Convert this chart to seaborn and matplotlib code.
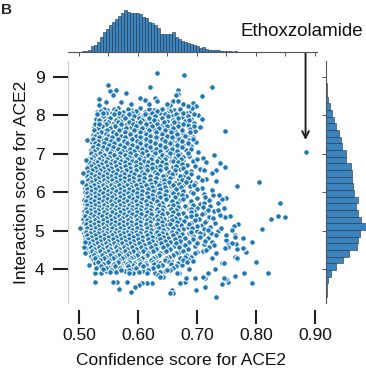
import numpy as np
import pandas as pd
import matplotlib
matplotlib.use("Agg")
import matplotlib.pyplot as plt
import seaborn as sns

# --------------------------
# Data
# --------------------------
# top marginal: confidence score histogram (bar heights)
conf_bin_start = 0.5045
conf_bin_width = 0.00508
conf_counts = [2, 4, 7, 17, 20, 29, 44, 57, 67, 79, 87, 95, 105, 112, 120, 115,
               112, 113, 111, 109, 102, 97, 85, 84, 79, 69, 52, 52, 53, 53, 57,
               42, 37, 32, 29, 27, 22, 19, 17, 12, 15, 9, 7, 5, 7, 6, 3, 3, 2,
               2, 1, 2]

# right marginal: interaction score histogram (bar lengths, low -> high)
inter_bin_start = 3.28
inter_bin_width = 0.1737
inter_counts = [2, 4, 7, 15, 29, 50, 70, 95, 97, 102, 120, 107, 97, 92, 97,
                84, 83, 80, 78, 77, 62, 60, 49, 45, 40, 29, 24, 17, 12, 7,
                2, 2, 1, 1]

# dense part of the cloud: rows of points per interaction score level,
# confidence scores in thousandths
core_levels = [8.20, 8.15, 8.10, 8.05, 8.00, 7.95, 7.90, 7.85, 7.80, 7.75,
               7.70, 7.65, 7.60, 7.55, 7.50, 7.45, 7.40, 7.35, 7.30, 7.25,
               7.20, 7.15, 7.10, 7.05, 7.00, 6.95, 6.90, 6.85, 6.80, 6.75,
               6.70, 6.65, 6.60, 6.55, 6.50, 6.45, 6.40, 6.35, 6.30, 6.25,
               6.20, 6.15, 6.10, 6.05, 6.00, 5.95, 5.90, 5.85, 5.80, 5.75,
               5.70, 5.65, 5.60, 5.55, 5.50, 5.45, 5.40, 5.35, 5.30, 5.25,
               5.20, 5.15, 5.10, 5.05, 5.00, 4.95, 4.90, 4.85, 4.80, 4.75,
               4.70, 4.65, 4.60, 4.55, 4.50, 4.45, 4.40, 4.35, 4.30, 4.25,
               4.20, 4.15, 4.10, 4.05, 4.00, 3.95, 3.90]
core_conf = [
    [538, 566, 604, 652, 690],
    [547, 589, 627, 661],
    [531, 574, 612, 645, 668],
    [556, 598, 637, 683],
    [536, 581, 619, 657, 701],
    [549, 567, 606, 643, 674],
    [529, 588, 625, 662, 690],
    [544, 572, 611, 633, 650, 679],
    [533, 559, 597, 621, 667, 695],
    [551, 579, 604, 640, 657, 684],
    [526, 566, 588, 615, 646, 672, 706],
    [541, 573, 599, 627, 653, 689],
    [530, 556, 582, 609, 636, 662, 697],
    [545, 566, 592, 618, 645, 676],
    [524, 551, 575, 601, 628, 655, 683],
    [538, 561, 585, 611, 637, 664, 693],
    [527, 548, 570, 596, 622, 648, 672],
    [541, 559, 580, 604, 630, 657, 686],
    [522, 549, 567, 589, 614, 640, 666, 699],
    [535, 556, 576, 598, 623, 649, 677],
    [526, 545, 564, 584, 607, 632, 658, 690],
    [538, 553, 572, 593, 615, 641, 669],
    [520, 544, 561, 580, 601, 624, 650, 681],
    [532, 550, 568, 588, 609, 633, 661, 702],
    [523, 541, 557, 575, 596, 617, 642, 671],
    [535, 549, 565, 583, 604, 626, 652, 686],
    [518, 539, 555, 571, 590, 611, 635, 663, 711],
    [529, 546, 562, 579, 598, 620, 646, 676],
    [521, 537, 552, 568, 586, 606, 629, 656, 694],
    [531, 544, 559, 575, 593, 614, 638, 667],
    [516, 536, 550, 565, 582, 601, 622, 648, 683],
    [527, 542, 556, 571, 589, 609, 631, 659],
    [519, 534, 548, 562, 578, 596, 617, 641, 671, 705],
    [529, 543, 557, 571, 587, 605, 626, 652, 690],
    [514, 537, 550, 564, 579, 595, 614, 636, 663],
    [524, 542, 556, 570, 586, 603, 623, 647, 678],
    [517, 533, 547, 561, 575, 591, 610, 631, 657, 701],
    [526, 540, 553, 567, 582, 599, 618, 641, 669, 716],
    [512, 531, 545, 558, 572, 587, 605, 626, 651, 688],
    [522, 537, 550, 561, 573, 586, 600, 617, 637, 662, 697],
    [513, 529, 543, 555, 567, 580, 594, 609, 627, 648, 676],
    [520, 535, 548, 560, 572, 585, 599, 615, 633, 656, 688],
    [511, 527, 541, 553, 565, 577, 590, 604, 621, 641, 666, 708],
    [518, 533, 546, 558, 570, 582, 595, 610, 628, 649, 677],
    [510, 525, 539, 551, 563, 575, 587, 601, 616, 635, 658, 690],
    [517, 531, 544, 556, 568, 580, 593, 607, 623, 643, 668, 712],
    [512, 524, 537, 549, 561, 573, 585, 598, 613, 630, 651, 681],
    [519, 530, 543, 555, 567, 579, 591, 605, 620, 639, 662, 700],
    [509, 523, 535, 548, 560, 572, 584, 597, 611, 627, 646, 672, 720],
    [516, 529, 541, 553, 565, 577, 589, 603, 618, 635, 656, 688],
    [511, 522, 534, 546, 558, 570, 582, 595, 609, 624, 642, 666, 705],
    [518, 528, 540, 552, 564, 576, 588, 601, 616, 632, 652, 680, 722],
    [510, 523, 535, 547, 559, 571, 583, 596, 610, 625, 644, 670, 700],
    [515, 529, 541, 553, 565, 577, 589, 602, 617, 633, 655, 686],
    [508, 521, 534, 546, 558, 570, 582, 595, 609, 624, 641, 664, 695, 728],
    [514, 527, 540, 552, 564, 576, 588, 601, 615, 631, 650, 676, 712],
    [509, 522, 535, 547, 559, 571, 583, 596, 610, 625, 643, 667, 698],
    [516, 529, 541, 553, 565, 577, 589, 602, 617, 634, 654, 682, 720],
    [507, 521, 534, 546, 558, 570, 582, 595, 609, 625, 644, 669, 704],
    [513, 527, 540, 552, 564, 576, 588, 601, 615, 632, 652, 678, 715],
    [509, 520, 533, 545, 557, 569, 581, 593, 606, 621, 638, 660, 690, 730],
    [515, 526, 538, 550, 562, 574, 586, 598, 612, 628, 647, 673, 708],
    [510, 521, 532, 544, 556, 568, 580, 592, 605, 619, 636, 657, 684, 722],
    [505, 517, 528, 539, 551, 563, 575, 587, 600, 614, 630, 650, 677, 712],
    [512, 523, 535, 547, 559, 571, 583, 596, 610, 626, 645, 669, 700, 736],
    [508, 519, 530, 542, 554, 566, 578, 590, 603, 618, 635, 657, 686, 724],
    [514, 525, 537, 549, 561, 573, 585, 598, 612, 628, 648, 674, 710],
    [510, 521, 532, 544, 556, 568, 580, 593, 606, 621, 639, 662, 694],
    [516, 527, 539, 551, 563, 575, 587, 600, 614, 630, 651, 679, 718],
    [511, 523, 534, 546, 558, 570, 582, 595, 608, 623, 642, 667, 701],
    [517, 529, 541, 553, 565, 577, 589, 602, 616, 633, 655, 686, 726],
    [513, 525, 537, 549, 561, 573, 585, 598, 611, 627, 647, 674, 712],
    [519, 531, 543, 555, 567, 579, 591, 604, 619, 637, 661, 697],
    [515, 528, 540, 552, 564, 576, 588, 601, 615, 632, 654, 684],
    [521, 534, 546, 558, 570, 582, 594, 608, 624, 644, 671, 713],
    [518, 531, 543, 555, 567, 579, 592, 606, 622, 643, 670, 700],
    [523, 536, 549, 561, 573, 586, 600, 616, 636, 663, 695],
    [520, 533, 546, 558, 571, 584, 598, 614, 633, 658, 688],
    [526, 540, 553, 566, 580, 595, 612, 632, 657, 690],
    [523, 537, 551, 565, 579, 594, 611, 631, 655, 684],
    [530, 545, 560, 575, 591, 609, 630, 656, 693],
    [527, 543, 559, 576, 594, 614, 638, 668],
    [534, 552, 571, 591, 613, 640, 675],
    [531, 550, 572, 596, 623, 655],
    [540, 563, 588, 616, 649, 686],
    [546, 578, 609, 645],
    [537, 592, 628, 670],
]

# second set of rows, in between the first ones
core_levels_b = [8.175, 8.125, 8.075, 8.025, 7.975, 7.925, 7.875, 7.825,
                 7.775, 7.725, 7.675, 7.625, 7.575, 7.525, 7.475, 7.425,
                 7.375, 7.325, 7.275, 7.225, 7.175, 7.125, 7.075, 7.025,
                 6.975, 6.925, 6.875, 6.825, 6.775, 6.725, 6.675, 6.625,
                 6.575, 6.525, 6.475, 6.425, 6.375, 6.325, 6.275, 6.225,
                 6.175, 6.125, 6.075, 6.025, 5.975, 5.925, 5.875, 5.825,
                 5.775, 5.725, 5.675, 5.625, 5.575, 5.525, 5.475, 5.425,
                 5.375, 5.325, 5.275, 5.225, 5.175, 5.125, 5.075, 5.025,
                 4.975, 4.925, 4.875, 4.825, 4.775, 4.725, 4.675, 4.625,
                 4.575, 4.525, 4.475, 4.425, 4.375, 4.325, 4.275, 4.225,
                 4.175, 4.125, 4.075, 4.025, 3.975, 3.925]
core_conf_b = [
    [542, 559, 583, 618, 641, 672],
    [537, 563, 596, 633, 655, 690],
    [545, 568, 590, 624, 650, 676],
    [530, 560, 585, 612, 646, 664, 695],
    [541, 575, 594, 629, 651, 684],
    [552, 578, 601, 618, 640, 668],
    [536, 562, 590, 606, 627, 659, 687],
    [549, 566, 584, 603, 644, 661],
    [528, 545, 571, 591, 613, 632, 676],
    [539, 561, 596, 623, 650, 668, 695],
    [533, 553, 580, 607, 636, 660],
    [525, 548, 568, 593, 618, 645, 674],
    [537, 558, 578, 603, 631, 656, 688],
    [531, 545, 563, 587, 614, 641, 666],
    [527, 550, 572, 596, 621, 649, 679],
    [534, 556, 578, 603, 630, 658],
    [524, 545, 566, 590, 614, 640, 669, 694],
    [532, 554, 576, 598, 621, 646, 674],
    [528, 542, 560, 581, 603, 628, 654, 684],
    [533, 551, 570, 590, 613, 638, 666],
    [523, 540, 558, 577, 598, 621, 646, 675],
    [530, 548, 566, 586, 607, 630, 657, 690],
    [526, 538, 555, 573, 593, 614, 638, 666],
    [520, 535, 552, 569, 587, 607, 629, 655, 684],
    [528, 543, 560, 578, 597, 617, 641, 668],
    [524, 537, 551, 567, 584, 603, 624, 648, 676],
    [520, 534, 548, 564, 582, 601, 622, 646, 673, 700],
    [527, 541, 556, 572, 590, 610, 633, 660],
    [517, 530, 545, 561, 578, 597, 617, 640, 667, 715],
    [524, 538, 553, 568, 585, 603, 624, 647, 675],
    [520, 533, 547, 562, 578, 596, 616, 638, 664, 697],
    [513, 527, 541, 555, 570, 586, 604, 624, 647, 676],
    [522, 536, 550, 564, 579, 596, 615, 637, 663, 712],
    [516, 530, 544, 558, 573, 589, 607, 628, 652, 682],
    [520, 534, 548, 562, 577, 593, 611, 632, 657, 690],
    [513, 527, 541, 555, 569, 584, 601, 620, 643, 671],
    [519, 533, 547, 561, 576, 592, 610, 631, 655, 684],
    [515, 528, 542, 556, 570, 585, 602, 621, 644, 674, 709],
    [520, 534, 548, 562, 576, 591, 608, 628, 652, 682],
    [516, 530, 544, 558, 572, 587, 603, 622, 644, 670],
    [512, 526, 540, 554, 568, 582, 597, 614, 635, 660, 695],
    [518, 532, 546, 560, 574, 589, 605, 624, 646, 673],
    [514, 528, 542, 556, 570, 584, 599, 617, 638, 664, 700],
    [521, 535, 549, 562, 576, 591, 607, 626, 648, 677],
    [513, 527, 541, 555, 569, 583, 598, 615, 635, 659, 694],
    [519, 533, 547, 560, 574, 589, 605, 624, 646, 674, 727],
    [515, 528, 542, 556, 570, 584, 599, 617, 637, 662, 714],
    [521, 534, 548, 562, 576, 591, 607, 626, 648, 677],
    [512, 526, 540, 554, 568, 582, 597, 614, 633, 657, 690],
    [518, 532, 546, 560, 574, 588, 603, 621, 641, 666, 712],
    [514, 528, 542, 556, 570, 584, 599, 616, 636, 660, 693],
    [520, 534, 548, 562, 576, 590, 605, 622, 642, 668, 710],
    [512, 526, 540, 554, 568, 582, 597, 613, 632, 656, 690],
    [518, 532, 546, 560, 574, 588, 603, 620, 640, 665, 718],
    [514, 528, 542, 556, 570, 584, 599, 616, 635, 659, 690],
    [520, 534, 548, 562, 576, 590, 605, 622, 641, 667, 708],
    [511, 525, 539, 553, 567, 581, 596, 613, 632, 657, 690],
    [517, 531, 545, 559, 573, 587, 602, 619, 638, 663, 727],
    [513, 527, 541, 555, 569, 583, 598, 615, 634, 658, 697],
    [519, 533, 547, 561, 575, 589, 604, 621, 641, 666, 713],
    [512, 526, 540, 554, 568, 582, 597, 613, 632, 655, 686],
    [518, 532, 546, 560, 574, 588, 603, 620, 640, 664, 700],
    [514, 528, 542, 556, 570, 584, 599, 616, 635, 659, 692, 740],
    [520, 534, 548, 562, 576, 590, 605, 622, 642, 668, 718],
    [512, 526, 540, 554, 568, 582, 597, 614, 633, 657, 690],
    [518, 532, 546, 560, 574, 588, 603, 620, 640, 665, 705],
    [514, 528, 542, 556, 570, 584, 599, 616, 635, 660, 732],
    [521, 535, 549, 563, 577, 591, 606, 623, 643, 669, 704],
    [515, 529, 543, 557, 571, 585, 600, 617, 637, 662, 693],
    [522, 536, 550, 564, 578, 592, 607, 624, 645, 672, 713],
    [517, 531, 545, 559, 573, 587, 602, 619, 639, 665, 700],
    [523, 537, 551, 565, 579, 594, 610, 628, 650, 680],
    [520, 534, 548, 562, 576, 590, 605, 622, 643, 669, 721],
    [525, 539, 553, 567, 581, 596, 612, 631, 654, 685],
    [522, 536, 550, 564, 578, 592, 608, 626, 648, 676, 710],
    [528, 542, 556, 570, 585, 600, 617, 638, 664, 697],
    [525, 539, 553, 567, 582, 598, 615, 635, 660, 681],
    [531, 546, 561, 576, 592, 609, 629, 652, 679],
    [528, 543, 558, 573, 589, 606, 625, 648, 672],
    [535, 551, 567, 584, 602, 622, 645, 676],
    [532, 549, 566, 584, 604, 626, 652, 683],
    [540, 560, 581, 603, 627, 656],
    [538, 561, 583, 608, 634, 664],
    [546, 570, 597, 626, 660],
    [555, 585, 617, 655],
    [562, 602, 638],
]

# sparse points around the cloud
edge_conf = [0.633, 0.678, 0.549, 0.620, 0.725, 0.553, 0.562, 0.558, 0.580,
             0.667, 0.668, 0.664, 0.534, 0.534, 0.541, 0.534, 0.534, 0.709,
             0.709, 0.603, 0.612, 0.629, 0.632, 0.694, 0.699, 0.691, 0.685,
             0.660, 0.668, 0.654, 0.649, 0.572, 0.588, 0.545, 0.618, 0.676,
             0.747, 0.805, 0.767, 0.840, 0.825, 0.838, 0.850, 0.811, 0.794,
             0.800, 0.821, 0.793, 0.780, 0.764, 0.732, 0.767, 0.783, 0.780,
             0.766, 0.778, 0.770, 0.763, 0.759, 0.764, 0.753, 0.750, 0.756,
             0.747, 0.739, 0.746, 0.735, 0.736, 0.750, 0.742, 0.738, 0.747,
             0.739, 0.729, 0.733, 0.725, 0.733, 0.725, 0.708, 0.705, 0.753,
             0.750, 0.742, 0.714, 0.699, 0.714, 0.697, 0.680, 0.719, 0.730,
             0.742, 0.753, 0.764, 0.767, 0.745, 0.711, 0.682, 0.671, 0.657,
             0.660, 0.654, 0.634, 0.643, 0.623, 0.615, 0.606, 0.601, 0.595,
             0.589, 0.568, 0.581, 0.564, 0.558, 0.527, 0.527, 0.529, 0.540,
             0.517, 0.510, 0.508, 0.510, 0.553, 0.572, 0.584, 0.601, 0.615,
             0.637, 0.666, 0.649, 0.778, 0.767, 0.745, 0.733, 0.747, 0.759,
             0.728, 0.705, 0.716, 0.725, 0.764, 0.750, 0.502, 0.505, 0.507,
             0.512, 0.514]
edge_inter = [9.10, 9.06, 8.80, 8.73, 8.73, 8.63, 8.67, 8.52, 8.59,
              8.65, 8.57, 8.52, 8.44, 8.28, 8.06, 7.89, 7.78, 8.50,
              7.91, 8.45, 8.39, 8.45, 8.38, 8.32, 8.24, 8.19, 8.24,
              8.37, 8.38, 8.28, 8.30, 8.36, 8.30, 8.35, 8.30, 8.30,
              7.59, 6.27, 6.16, 5.71, 5.30, 5.38, 5.36, 5.04, 4.71,
              4.17, 3.89, 3.64, 3.89, 3.82, 3.28, 4.25, 4.45, 4.56,
              4.65, 4.82, 5.16, 5.12, 5.02, 4.88, 4.67, 4.76, 5.38,
              5.36, 5.41, 5.58, 5.54, 5.73, 5.84, 5.82, 5.93, 6.65,
              6.75, 6.97, 6.58, 6.49, 6.30, 6.06, 7.90, 7.71, 3.67,
              3.73, 3.61, 3.54, 3.45, 3.76, 3.76, 3.67, 3.89, 3.99,
              4.15, 4.58, 4.32, 4.51, 3.76, 3.80, 3.76, 3.63, 3.45,
              3.37, 3.37, 3.84, 3.80, 3.63, 3.63, 3.63, 3.58, 3.54,
              3.41, 3.47, 3.67, 3.67, 3.67, 3.67, 3.89, 4.02, 3.99,
              4.10, 4.41, 4.58, 4.71, 3.93, 3.97, 3.90, 3.93, 3.89,
              3.80, 3.90, 3.97, 4.54, 4.28, 4.15, 4.41, 4.54, 4.67,
              4.63, 4.84, 4.49, 4.28, 4.84, 4.88, 5.07, 6.27, 6.49,
              6.84, 7.36]

ethox_conf = 0.884
ethox_inter = 7.04

x_ticks = [0.50, 0.60, 0.70, 0.80, 0.90]
x_ticklabels = ["0.50", "0.60", "0.70", "0.80", "0.90"]
y_ticks = [4, 5, 6, 7, 8, 9]

# --------------------------
# Build tables
# --------------------------
rows = []
for levels, conf_rows in [(core_levels, core_conf), (core_levels_b, core_conf_b)]:
    for lvl, xs in zip(levels, conf_rows):
        for v in xs:
            rows.append((v / 1000, lvl))
df = pd.DataFrame(rows, columns=["conf", "inter"])
df = pd.concat([df, pd.DataFrame({"conf": edge_conf, "inter": edge_inter}),
                pd.DataFrame({"conf": [ethox_conf], "inter": [ethox_inter]})],
               ignore_index=True)

conf_edges = [conf_bin_start + conf_bin_width * i for i in range(len(conf_counts) + 1)]
inter_edges = [inter_bin_start + inter_bin_width * i for i in range(len(inter_counts) + 1)]
top_df = pd.DataFrame({"conf": [(a + b) / 2 for a, b in zip(conf_edges[:-1], conf_edges[1:])],
                       "n": conf_counts})
right_df = pd.DataFrame({"inter": [(a + b) / 2 for a, b in zip(inter_edges[:-1], inter_edges[1:])],
                         "n": inter_counts})

# --------------------------
# Figure
# --------------------------
sns.set_theme(style="white")
plt.rcParams["font.family"] = ["Liberation Sans", "DejaVu Sans"]

W, H = 366, 373
fig = plt.figure(figsize=(W / 100, H / 100), dpi=100)

def px_axes(x0, y0, x1, y1):
    return fig.add_axes([x0 / W, 1 - y1 / H, (x1 - x0) / W, (y1 - y0) / H])

ax = px_axes(68, 61, 317, 303)
ax_top = px_axes(68, 10, 317, 52)
ax_right = px_axes(326, 61, 366, 303)

point_blue = "#1f77b4"
bar_blue = "#3b84be"
bar_edge = "#1d3349"
dark = "#231f20"

sns.scatterplot(data=df, x="conf", y="inter", ax=ax, s=16, color=point_blue,
                edgecolor="white", linewidth=0.7)

ax.set_xlim(0.4814, 0.9034)
ax.set_ylim(3.115, 9.417)
ax.set_xticks(x_ticks)
ax.set_xticklabels(x_ticklabels)
ax.set_yticks(y_ticks)
for s in ["top", "right"]:
    ax.spines[s].set_visible(False)
ax.spines["bottom"].set_position(("outward", 5))
ax.spines["bottom"].set_visible(False)
ax.spines["left"].set_color("#cccccc")
ax.spines["left"].set_linewidth(0.8)
ax.tick_params(axis="x", length=10, width=1.5, color=dark, pad=3,
               labelsize=12.5, labelcolor="#111111", bottom=True)
ax.tick_params(axis="y", length=11, width=1.5, color=dark, pad=6,
               labelsize=12.5, labelcolor="#111111", left=True)
ax.set_xlabel("Confidence score for ACE2", fontsize=12.5, color="#111111")
ax.set_ylabel("Interaction score for ACE2", fontsize=12.5, color="#111111")
ax.xaxis.set_label_coords(0.454, -0.205)
ax.yaxis.set_label_coords(-0.155, 0.5)

# top marginal
sns.histplot(data=top_df, x="conf", weights="n", bins=conf_edges, ax=ax_top,
             color=bar_blue, alpha=1, edgecolor=bar_edge, linewidth=0.4)
ax_top.set_xlim(ax.get_xlim())
ax_top.set_ylim(0, 121)
ax_top.set_xticks(np.arange(0.50, 0.91, 0.05))
ax_top.set_xticklabels([])
ax_top.set_yticks([])
ax_top.set_xlabel("")
ax_top.set_ylabel("")
for s in ["top", "right", "left"]:
    ax_top.spines[s].set_visible(False)
ax_top.spines["bottom"].set_color("#555555")
ax_top.spines["bottom"].set_linewidth(0.8)
ax_top.tick_params(axis="x", length=3, width=0.7, color="#555555", bottom=True)

# right marginal
sns.histplot(data=right_df, y="inter", weights="n", bins=inter_edges, ax=ax_right,
             color=bar_blue, alpha=1, edgecolor=bar_edge, linewidth=0.4)
ax_right.set_ylim(ax.get_ylim())
ax_right.set_xlim(0, 121)
ax_right.set_yticks(y_ticks)
ax_right.set_yticklabels([])
ax_right.set_xticks([])
ax_right.set_xlabel("")
ax_right.set_ylabel("")
for s in ["top", "right", "bottom"]:
    ax_right.spines[s].set_visible(False)
ax_right.spines["left"].set_color("#555555")
ax_right.spines["left"].set_linewidth(0.8)
ax_right.tick_params(axis="y", length=3, width=0.7, color="#555555", left=True)

# Ethoxzolamide callout
ax.annotate("", xy=(ethox_conf, 7.36), xytext=(ethox_conf, 9.885),
            arrowprops=dict(arrowstyle="->", color=dark, lw=1.4,
                            mutation_scale=12, shrinkA=0, shrinkB=0),
            annotation_clip=False)
fig.text(241 / W, 1 - 36.5 / H, "Ethoxzolamide", fontsize=13.5, color="#111111",
         ha="left", va="baseline")

fig.text(0.5 / W, 1 - 14 / H, "B", fontsize=11, weight="bold",
         ha="left", va="baseline")

fig.savefig("out.png", dpi=100)
plt.close(fig)
